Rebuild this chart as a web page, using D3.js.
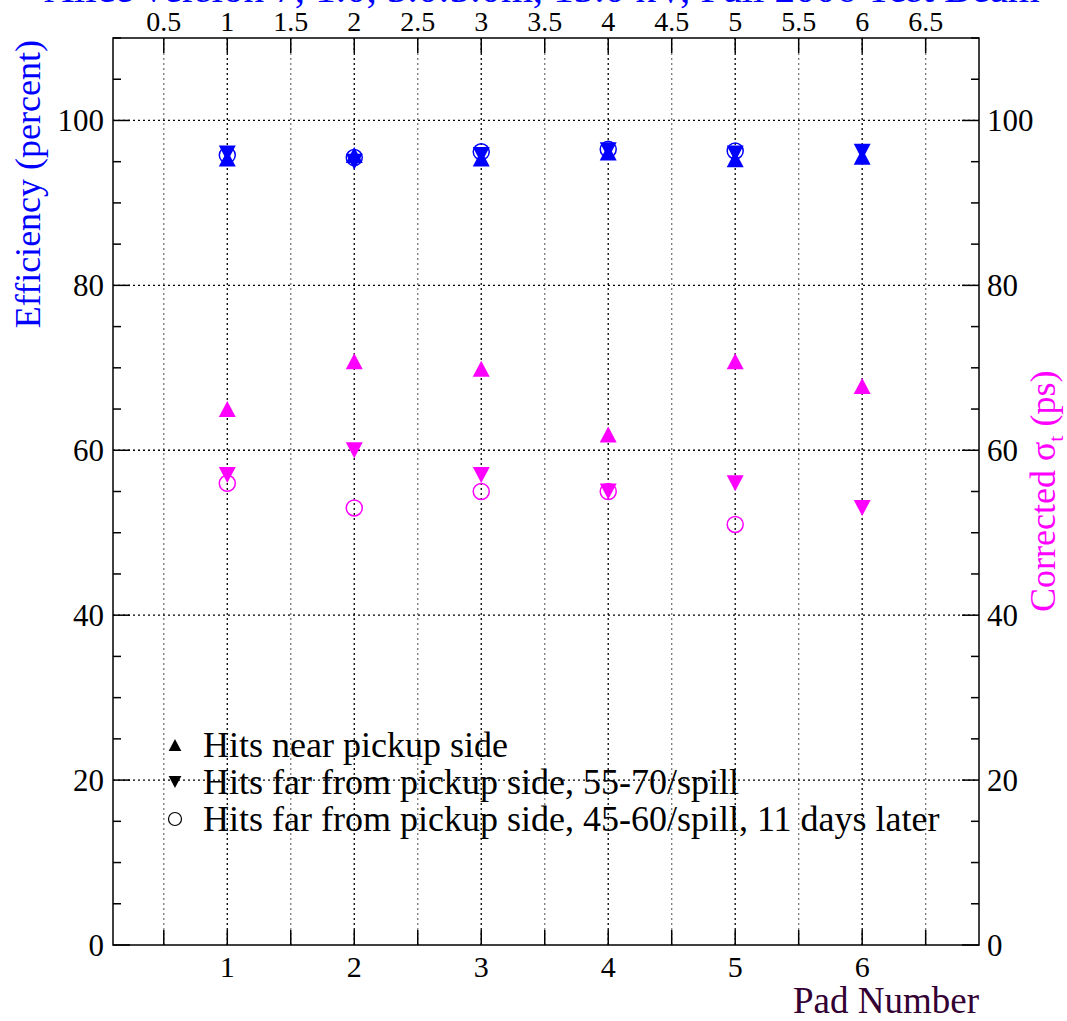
<!DOCTYPE html>
<html>
<head>
<meta charset="utf-8">
<script src="https://cdn.jsdelivr.net/npm/d3@7"></script>
<style>
  body { margin: 0; background: #fff; }
  text { font-family: "Liberation Serif", "Times New Roman", serif; }
</style>
</head>
<body>
<div id="chart"></div>
<script>
const width = 1067;
const height = 1021;

// pad numbers and measured values
const pads = [1, 2, 3, 4, 5, 6];
const padsLater = [1, 2, 3, 4, 5];
const effNear = [95.4, 95.8, 95.4, 96.1, 95.3, 95.6];
const effFar = [96.0, 95.0, 95.8, 96.4, 96.0, 96.2];
const effLater = [95.8, 95.5, 96.2, 96.5, 96.3];
const sigmaNear = [65.0, 70.8, 69.9, 61.9, 70.8, 67.8];
const sigmaFar = [57.0, 60.0, 57.0, 55.0, 56.0, 53.0];
const sigmaLater = [56.0, 53.0, 55.0, 55.0, 51.0];

const topTicks = [0.5, 1, 1.5, 2, 2.5, 3, 3.5, 4, 4.5, 5, 5.5, 6, 6.5];
const bottomTicks = [1, 2, 3, 4, 5, 6];
const yTicks = [0, 20, 40, 60, 80, 100];
const legendLabels = [
  "Hits near pickup side",
  "Hits far from pickup side, 55-70/spill",
  "Hits far from pickup side, 45-60/spill, 11 days later"
];

const pLeft = 113, pRight = 979, pTop = 38, pBottom = 945;

const x = d3.scaleLinear().domain([0.1, 6.92]).range([pLeft, pRight]);
const y = d3.scaleLinear().domain([0, 110]).range([pBottom, pTop]);

const svg = d3.select("#chart")
  .append("svg")
    .attr("width", width)
    .attr("height", height);

// grid
const halfSteps = d3.range(0.5, 6.9, 0.5);
svg.append("g")
  .selectAll("line")
  .data(halfSteps)
  .enter()
  .append("line")
    .attr("x1", d => x(d)).attr("x2", d => x(d))
    .attr("y1", pTop).attr("y2", pBottom)
    .attr("stroke", d => Number.isInteger(d) ? "#000" : "#777")
    .attr("stroke-width", 1.3)
    .attr("stroke-dasharray", "2,3");

svg.append("g")
  .selectAll("line")
  .data(yTicks.filter(d => d > 0))
  .enter()
  .append("line")
    .attr("x1", pLeft).attr("x2", pRight)
    .attr("y1", d => y(d)).attr("y2", d => y(d))
    .attr("stroke", "#000")
    .attr("stroke-width", 1.3)
    .attr("stroke-dasharray", "2,3");

// frame
svg.append("rect")
  .attr("x", pLeft).attr("y", pTop)
  .attr("width", pRight - pLeft).attr("height", pBottom - pTop)
  .attr("fill", "none")
  .attr("stroke", "#000")
  .attr("stroke-width", 1.5);

// x ticks (bottom & top, inward)
const xt = svg.append("g");
halfSteps.forEach(d => {
  xt.append("line").attr("x1", x(d)).attr("x2", x(d)).attr("y1", pBottom).attr("y2", pBottom - 15)
    .attr("stroke", "#000").attr("stroke-width", 1.5);
  xt.append("line").attr("x1", x(d)).attr("x2", x(d)).attr("y1", pTop).attr("y2", pTop + 15)
    .attr("stroke", "#000").attr("stroke-width", 1.5);
});

// y ticks (left & right, inward)
const yMinor = d3.range(0, 111, 5);
const ytg = svg.append("g");
yMinor.forEach(d => {
  const len = d % 20 === 0 ? 17 : 8;
  ytg.append("line").attr("x1", pLeft).attr("x2", pLeft + len).attr("y1", y(d)).attr("y2", y(d))
    .attr("stroke", "#000").attr("stroke-width", 1.5);
  ytg.append("line").attr("x1", pRight).attr("x2", pRight - len).attr("y1", y(d)).attr("y2", y(d))
    .attr("stroke", "#000").attr("stroke-width", 1.5);
});

// tick labels
svg.append("g")
  .selectAll("text")
  .data(bottomTicks)
  .enter()
  .append("text")
    .attr("x", d => x(d))
    .attr("y", 977)
    .attr("text-anchor", "middle")
    .attr("font-size", 30)
    .text(d => d);

svg.append("g")
  .selectAll("text")
  .data(topTicks)
  .enter()
  .append("text")
    .attr("x", d => x(d))
    .attr("y", 31)
    .attr("text-anchor", "middle")
    .attr("font-size", 28)
    .text(d => d);

svg.append("g")
  .selectAll("text")
  .data(yTicks)
  .enter()
  .append("text")
    .attr("x", 104)
    .attr("y", d => y(d) + 11)
    .attr("text-anchor", "end")
    .attr("font-size", 31)
    .text(d => d);

svg.append("g")
  .selectAll("text")
  .data(yTicks)
  .enter()
  .append("text")
    .attr("x", 987)
    .attr("y", d => y(d) + 11)
    .attr("text-anchor", "start")
    .attr("font-size", 31)
    .text(d => d);

// titles (the top one is cut by the page edge in the original)
svg.append("text")
  .attr("x", 542).attr("y", 2)
  .attr("text-anchor", "middle")
  .attr("font-size", 41)
  .attr("fill", "#0000ff")
  .text("Alice version 7, 1.0, 3.0:3.0m, 13.0 kV, Fall 2006 Test Beam");

svg.append("text")
  .attr("transform", "translate(40,40) rotate(-90)")
  .attr("text-anchor", "end")
  .attr("font-size", 36)
  .attr("fill", "#0000ff")
  .text("Efficiency (percent)");

const rt = svg.append("text")
  .attr("transform", "translate(1055,612) rotate(-90)")
  .attr("text-anchor", "start")
  .attr("font-size", 36)
  .attr("fill", "#ff00ff");
rt.append("tspan").text("Corrected \u03c3");
rt.append("tspan").attr("font-size", 22).attr("dy", 8).text("t");
rt.append("tspan").attr("dy", -8).text(" (ps)");

svg.append("text")
  .attr("x", pRight).attr("y", 1013)
  .attr("text-anchor", "end")
  .attr("font-size", 37)
  .attr("fill", "#330033")
  .text("Pad Number");

// marker shapes
function triUp(s) {
  const w = s * 0.53, h = s * 0.5;
  return `M${-w},${h}L${w},${h}L0,${-h}Z`;
}
function triDown(s) {
  const w = s * 0.53, h = s * 0.5;
  return `M${-w},${-h}L${w},${-h}L0,${h}Z`;
}

function drawTri(xs, ys, color, shape) {
  svg.append("g")
    .selectAll("path")
    .data(d3.zip(xs, ys))
    .enter()
    .append("path")
      .attr("transform", d => `translate(${x(d[0])},${y(d[1])})`)
      .attr("d", shape(16))
      .attr("fill", color);
}
function drawCirc(xs, ys, color) {
  svg.append("g")
    .selectAll("circle")
    .data(d3.zip(xs, ys))
    .enter()
    .append("circle")
      .attr("cx", d => x(d[0]))
      .attr("cy", d => y(d[1]))
      .attr("r", 8)
      .attr("fill", "none")
      .attr("stroke", color)
      .attr("stroke-width", 1.5);
}

drawCirc(padsLater, effLater, "#0000ff");
drawTri(pads, effNear, "#0000ff", triUp);
drawTri(pads, effFar, "#0000ff", triDown);

drawCirc(padsLater, sigmaLater, "#ff00ff");
drawTri(pads, sigmaNear, "#ff00ff", triUp);
drawTri(pads, sigmaFar, "#ff00ff", triDown);

// legend
const legY = [745, 782, 819];
const leg = svg.append("g");
legendLabels.forEach((t, i) => {
  const g = leg.append("g").attr("transform", `translate(175,${legY[i]})`);
  if (i === 0) g.append("path").attr("d", triUp(12)).attr("fill", "#000");
  else if (i === 1) g.append("path").attr("d", triDown(12)).attr("fill", "#000");
  else g.append("circle").attr("r", 6.5).attr("fill", "none").attr("stroke", "#000").attr("stroke-width", 1.2);
  leg.append("text")
    .attr("x", 203).attr("y", legY[i] + 12)
    .attr("font-size", 36)
    .text(t);
});
</script>
</body>
</html>
